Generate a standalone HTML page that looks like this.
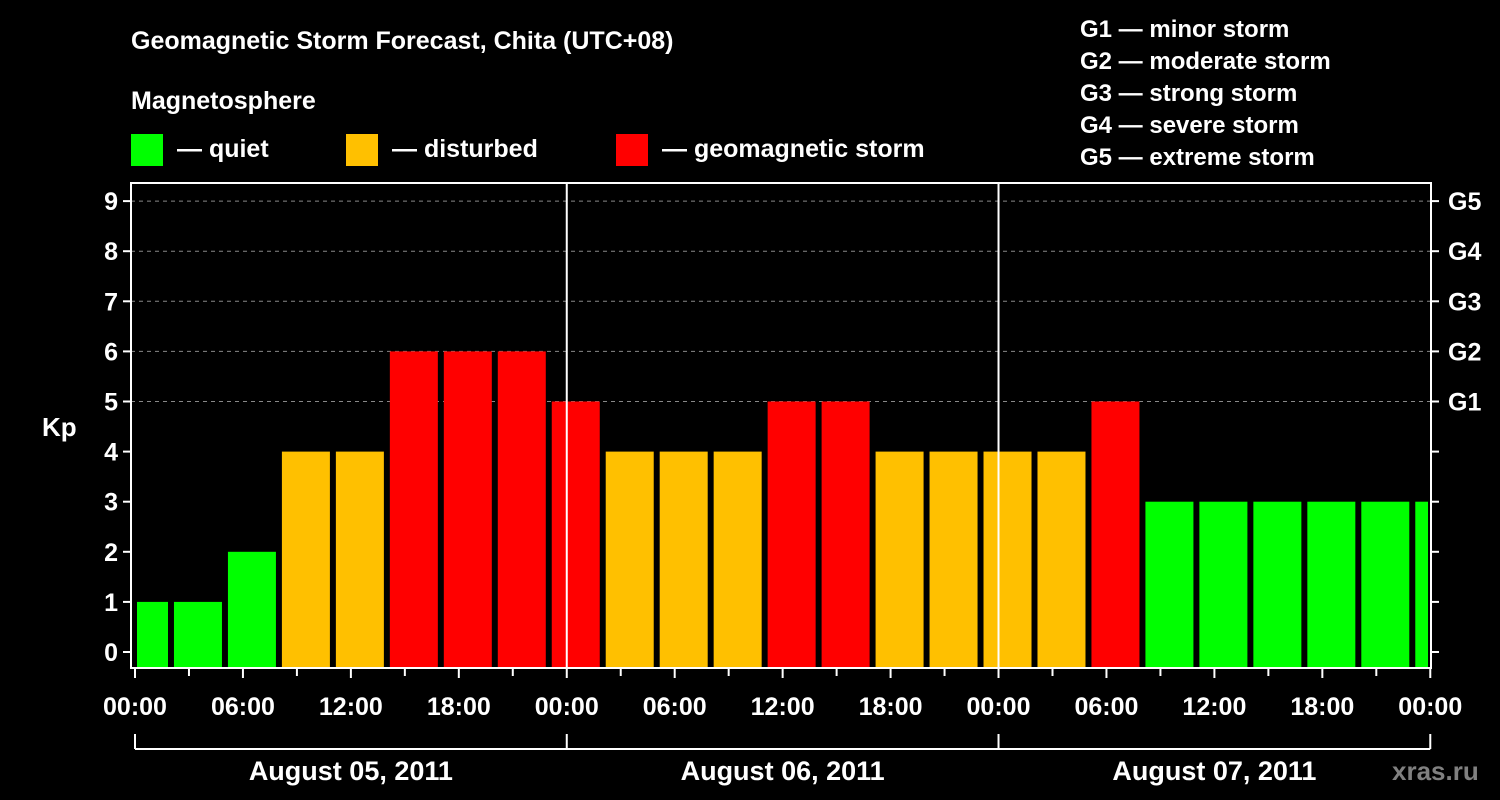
<!DOCTYPE html>
<html><head><meta charset="utf-8"><style>
body{margin:0;background:#000;width:1500px;height:800px;overflow:hidden}
svg{display:block;font-family:"Liberation Sans",sans-serif;font-weight:bold}
</style></head><body>
<svg id="chart" width="1500" height="800" viewBox="0 0 1500 800">
<rect width="1500" height="800" fill="#000"/>
<text x="131" y="49" fill="#fff" font-size="25">Geomagnetic Storm Forecast, Chita (UTC+08)</text>
<text x="131" y="109" fill="#fff" font-size="25">Magnetosphere</text>
<g><rect x="131" y="134" width="32" height="32" fill="#00ff00"/><text x="177" y="157" fill="#fff" font-size="25">— quiet</text></g>
<g><rect x="346" y="134" width="32" height="32" fill="#ffc000"/><text x="392" y="157" fill="#fff" font-size="25">— disturbed</text></g>
<g><rect x="616" y="134" width="32" height="32" fill="#ff0000"/><text x="662" y="157" fill="#fff" font-size="25">— geomagnetic storm</text></g>
<g fill="#fff" font-size="24">
<text x="1080" y="37">G1 — minor storm</text><text x="1080" y="69">G2 — moderate storm</text><text x="1080" y="101">G3 — strong storm</text><text x="1080" y="133">G4 — severe storm</text><text x="1080" y="165">G5 — extreme storm</text>
</g>
<text x="42" y="436" fill="#fff" font-size="26">Kp</text>
<text x="1392" y="780" fill="#808080" font-size="26">xras.ru</text>
<g id="grid"></g><g id="bars"></g><g id="axes"></g>
</svg>
<script>
const kpValues=[1,1,2,4,4,6,6,6,5,4,4,4,5,5,4,4,4,4,5,3,3,3,3,3,3];
const yTicks=[0,1,2,3,4,5,6,7,8,9];
const gLabels=["G1","G2","G3","G4","G5"];
const hourLabels=["00:00","06:00","12:00","18:00"];
const dayLabels=["August 05, 2011","August 06, 2011","August 07, 2011"];
const NS="http://www.w3.org/2000/svg";
const X0=135,PXH=17.99,Y0=652,PXK=50.1,TOP=183,BOT=668,L=131,R=1431;
const xs=h=>X0+h*PXH, ys=k=>Y0-k*PXK;
function mk(t,a,p){const e=document.createElementNS(NS,t);for(const k in a)e.setAttribute(k,a[k]);p.appendChild(e);return e;}
const grid=document.getElementById('grid'),bars=document.getElementById('bars'),axes=document.getElementById('axes');
yTicks.forEach(k=>{
  if(k>=5){const g=mk('line',{x1:L,x2:R,y1:ys(k),y2:ys(k),stroke:'#888','stroke-width':1,'stroke-dasharray':'4,4'},grid);
  
  }
  const t=mk('line',{x1:L-8,x2:L,y1:ys(k),y2:ys(k),stroke:'#fff','stroke-width':2},axes);
  
  
  mk('line',{x1:R,x2:R+8,y1:ys(k),y2:ys(k),stroke:'#fff','stroke-width':2},axes);
  const tl=mk('text',{x:118,y:ys(k)+9,fill:'#fff','font-size':25,'text-anchor':'end'},axes);tl.textContent=k;
  
  
});
gLabels.forEach((g,i)=>{const t=mk('text',{x:1448,y:ys(5+i)+9,fill:'#fff','font-size':25},axes);t.textContent=g;
  
  });
kpValues.forEach((v,i)=>{
  const c=3*i+0.5;let x1=xs(c)-24,x2=xs(c)+24;x1=Math.max(x1,L+6);x2=Math.min(x2,R-3);
  const col=v>=5?'#ff0000':v>=4?'#ffc000':'#00ff00';
  const b=mk('rect',{x:x1,y:ys(v),width:x2-x1,height:BOT-ys(v),fill:col},bars);
  
  
});
const frame=mk('rect',{x:L,y:TOP,width:R-L,height:BOT-TOP,fill:'none',stroke:'#fff','stroke-width':2},axes);


[1,2].forEach(d=>{const l=mk('line',{x1:xs(24*d),x2:xs(24*d),y1:TOP,y2:BOT,stroke:'#fff','stroke-width':2},axes);
  
  });
for(let h=0;h<=72;h+=3){mk('line',{x1:xs(h),x2:xs(h),y1:BOT,y2:BOT+(h%6===0?10:8),stroke:'#fff','stroke-width':2},axes);}
for(let h=0;h<=72;h+=6){const t=mk('text',{x:xs(h),y:715,fill:'#fff','font-size':25,'text-anchor':'middle'},axes);
  t.textContent=hourLabels[(h/6)%4];
  
  }
mk('line',{x1:xs(0),x2:xs(72),y1:749,y2:749,stroke:'#fff','stroke-width':2},axes);
for(let d=0;d<=3;d++){mk('line',{x1:xs(24*d),x2:xs(24*d),y1:734,y2:749,stroke:'#fff','stroke-width':2},axes);}
dayLabels.forEach((s,i)=>{const t=mk('text',{x:xs(24*i+12),y:780,fill:'#fff','font-size':27,'text-anchor':'middle'},axes);t.textContent=s;
  
  });
</script>
</body></html>
